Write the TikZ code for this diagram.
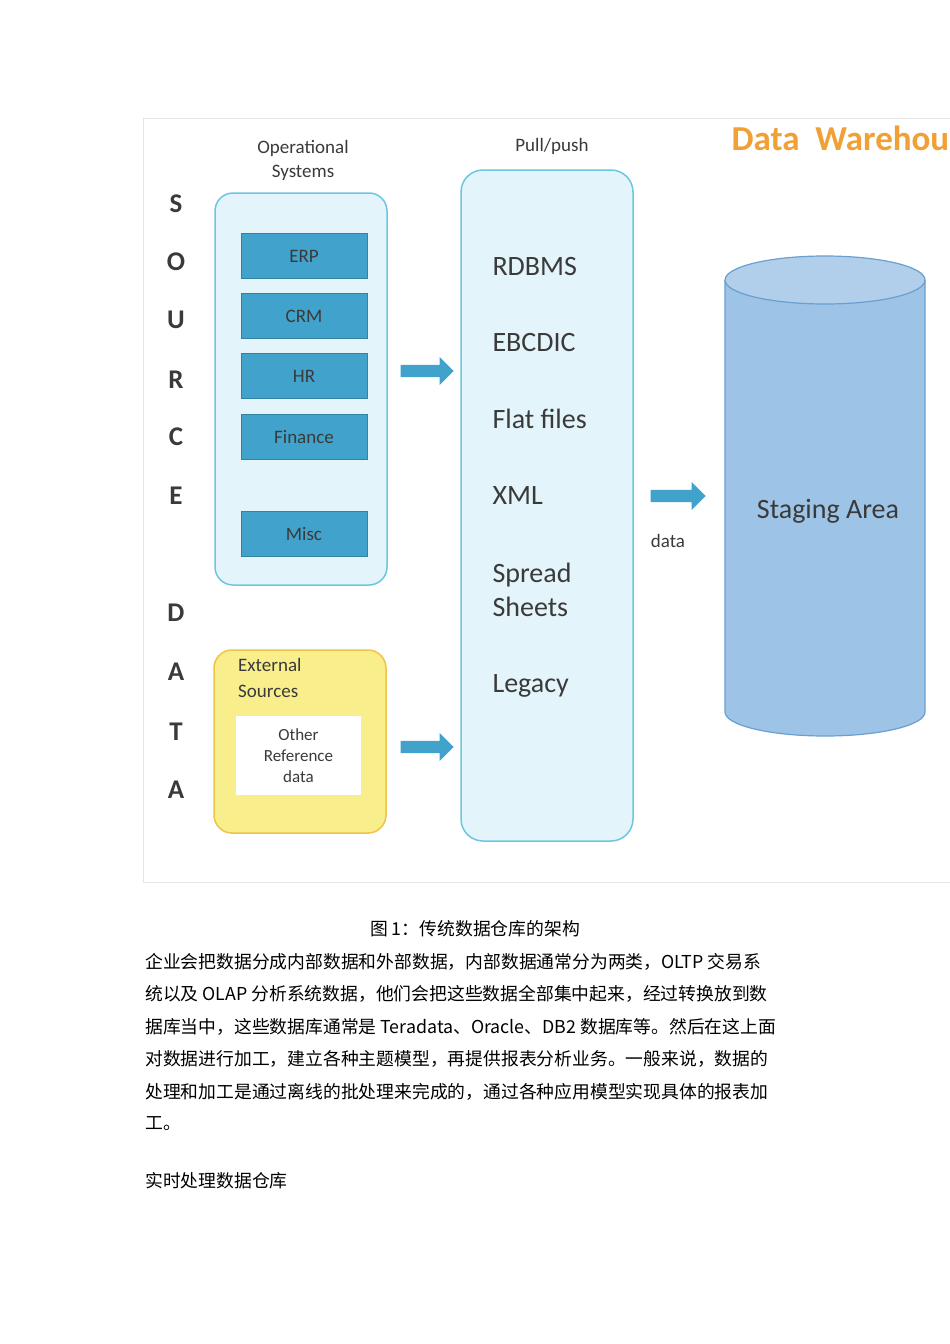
\documentclass[tikz,border=0pt]{standalone}
\usepackage{fontspec}
\setmainfont{Carlito}
\newfontfamily\cjk{Noto Sans CJK SC}
\usetikzlibrary{shapes.arrows}
\definecolor{lblue}{HTML}{E4F4FB}
\definecolor{bstroke}{HTML}{6CC6E2}
\definecolor{dblue}{HTML}{41A2CB}
\definecolor{ylw}{HTML}{F8EE8C}
\definecolor{ystroke}{HTML}{F0C448}
\definecolor{cyl}{HTML}{9DC3E6}
\definecolor{cylst}{HTML}{6A9FCF}
\definecolor{orng}{HTML}{F0A035}
\definecolor{txt}{HTML}{3A3A3A}
\begin{document}
\begin{tikzpicture}[x=1pt,y=-1pt,
  panel/.style={draw=bstroke,line width=1.5pt,fill=lblue,rounded corners=18pt},
  sysbox/.style={draw=dblue!80!black,fill=dblue,minimum width=126pt,minimum height=45pt,text=txt,font=\fontsize{19}{20}\selectfont},
  letter/.style={font=\bfseries\fontsize{27}{28}\selectfont,text=txt},
  fmt/.style={anchor=west,font=\fontsize{28}{34}\selectfont,text=txt,align=left},
  barrow/.style={single arrow,fill=dblue,draw=none,minimum height=53pt,minimum width=28pt,single arrow head extend=4pt,inner sep=3pt},
  body/.style={anchor=west,font=\cjk\fontsize{17.8}{17}\selectfont,text=black,inner sep=0pt}]
\useasboundingbox (0,0) rectangle (950,1344);
\fill[white] (0,0) rectangle (950,1344);
\begin{scope}
\clip (143,118) rectangle (950,882);
\draw[black!10] (143.5,118.5) rectangle (960,882);
\node[font=\fontsize{19}{24}\selectfont,text=txt,align=center] (ophead) at (303,160) {Operational\\Systems};
\node[font=\fontsize{19}{22}\selectfont,text=txt] (pphead) at (552,146) {Pull/push};
\node[anchor=west,font=\bfseries\fontsize{35}{36}\selectfont,text=orng] (dw) at (728,138) {Data\ \ Warehouse};
\draw[panel] (215,193) rectangle (387,585);
\node[sysbox] (erp) at (304,256) {ERP};
\node[sysbox] (crm) at (304,316) {CRM};
\node[sysbox] (hr) at (304,376) {HR};
\node[sysbox] (fin) at (304,437) {Finance};
\node[sysbox] (misc) at (304,534) {Misc};
\foreach \l/\y in {S/204,O/262,U/320,R/380,C/437,E/496,D/613,A/672,T/732,A/790}
  \node[letter] at (176,\y) {\l};
\draw[draw=ystroke,line width=1.5pt,fill=ylw,rounded corners=18pt] (214,650) rectangle (386,833);
\node[anchor=north west,font=\fontsize{19}{26}\selectfont,text=txt,align=left,inner sep=0pt] (ext) at (238,658) {External\\Sources};
\node[fill=white,minimum width=125pt,minimum height=79pt,font=\fontsize{17}{21}\selectfont,text=txt,align=center] (oth) at (298.5,755.5) {Other\\Reference\\data};
\node[barrow] (a1) at (424,371) {};
\node[barrow] (a2) at (424,747) {};
\draw[panel,rounded corners=22pt] (461,170) rectangle (633,841);
\node[fmt] (rdb) at (489,267) {RDBMS};
\node[fmt] (ebc) at (489,343) {EBCDIC};
\node[fmt] (flat) at (489,419) {Flat files};
\node[fmt] (xml) at (489,496) {XML};
\node[fmt] (ss) at (489,590) {Spread\\Sheets};
\node[fmt] (leg) at (489,686) {Legacy};
\node[barrow,minimum height=55pt] (a3) at (675,496) {};
\node[font=\fontsize{19}{20}\selectfont,text=txt] (dlab) at (668,541) {data};
\draw[cylst,line width=1.2pt,fill=cyl] (725,280) -- (725,712) arc[start angle=180,end angle=0,x radius=100,y radius=24] -- (925,280);
\draw[cylst,line width=1.2pt,fill=cyl!80!white] (825,280) ellipse[x radius=100,y radius=24];
\node[font=\fontsize{28}{30}\selectfont,text=txt] (stg) at (828,511) {Staging Area};
\end{scope}
\node[font=\cjk\fontsize{17.8}{17}\selectfont] (cap) at (475,929) {图 1：传统数据仓库的架构};
\node[body] at (145,962) {企业会把数据分成内部数据和外部数据，内部数据通常分为两类，OLTP 交易系};
\node[body] at (145,994) {统以及 OLAP 分析系统数据，他们会把这些数据全部集中起来，经过转换放到数};
\node[body] at (145,1027) {据库当中，这些数据库通常是 Teradata、Oracle、DB2 数据库等。然后在这上面};
\node[body] at (145,1059) {对数据进行加工，建立各种主题模型，再提供报表分析业务。一般来说，数据的};
\node[body] at (145,1092) {处理和加工是通过离线的批处理来完成的，通过各种应用模型实现具体的报表加};
\node[body] at (145,1124) {工。};
\node[body] at (145,1181) {实时处理数据仓库};
\end{tikzpicture}
\end{document}
